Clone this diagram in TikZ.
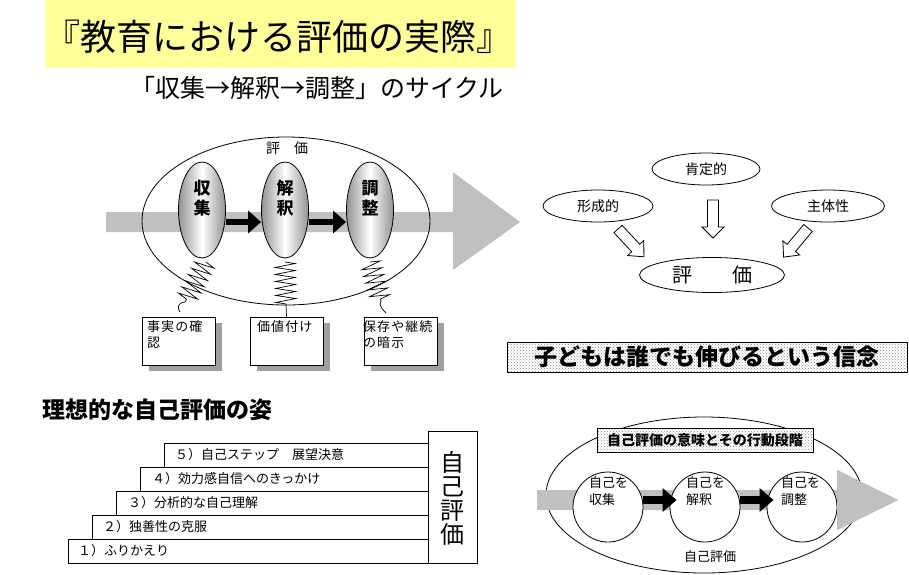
\documentclass[tikz,border=0pt]{standalone}
\usepackage{fontspec}
\newfontfamily\jp{Noto Sans CJK JP}
\usetikzlibrary{shapes.geometric,patterns,decorations.pathmorphing,arrows.meta,shadows}
\definecolor{titlebg}{RGB}{255,255,153}
\definecolor{arrowgray}{RGB}{192,192,192}
\tikzset{
  outline/.style={draw=black, line width=0.8pt},
  bigell/.style={outline, ellipse, inner sep=0pt},
  shadedell/.style={draw=black, line width=0.8pt, ellipse, inner sep=0pt, minimum width=47pt, minimum height=96pt,
     left color=gray!85, right color=gray!85, middle color=white},
  blk/.style={line width=6pt, -{Triangle[length=13pt,width=22pt]}},
  spring/.style={line width=0.7pt, decorate, decoration={zigzag, segment length=7pt, amplitude=10pt}},
  tail/.style={line width=0.7pt},
  notebox/.style={outline, fill=white, inner sep=0pt, minimum width=73pt, minimum height=48pt,
     drop shadow={shadow xshift=7pt, shadow yshift=-6pt, fill=gray!75, opacity=1}},
  smalltxt/.style={font=\jp\fontsize{13}{16}\selectfont\addfontfeature{LetterSpace=8}, inner sep=0pt, anchor=north west, align=left},
  oval/.style={outline, ellipse, inner sep=0pt, font=\jp\fontsize{14}{14}\selectfont},
  hollow/.style={draw=black, line width=0.8pt, fill=white},
  dotted banner/.style={outline, preaction={fill=white}, pattern=crosshatch dots, pattern color=gray!90, inner sep=0pt},
  stepbox/.style={outline, anchor=north west, inner sep=0pt, minimum height=24pt},
  steptxt/.style={font=\jp\fontsize{13}{13}\selectfont, anchor=west, inner sep=0pt},
  circ/.style={outline, circle, fill=white, minimum size=70pt, inner sep=0pt},
  circtxt/.style={font=\jp\fontsize{13}{17}\selectfont, inner sep=0pt, anchor=north west, align=left},
}
\begin{document}
\begin{tikzpicture}[x=1pt,y=-1pt,font=\jp]
\useasboundingbox (0,0) rectangle (909,574);

% ---- title ----
\fill[titlebg] (45,0) rectangle (515,68);
\node[font=\jp\fontsize{36}{36}\selectfont, inner sep=0pt] (title) at (278,37) {『教育における評価の実際』};
\node[font=\jp\fontsize{25}{25}\selectfont, inner sep=0pt] (subtitle) at (317,88) {「収集→解釈→調整」のサイクル};

% ---- left cycle ----
\fill[arrowgray] (106,212) -- (453,212) -- (453,172) -- (520,222) -- (453,270) -- (453,232) -- (106,232) -- cycle;
\node[bigell, minimum width=288pt, minimum height=168pt] (evalL) at (286,221) {};
\node[font=\jp\fontsize{14}{14}\selectfont, fill=white, inner sep=1pt] (evalLabel) at (287,148) {評　価};

\node[shadedell] (c1) at (202,210) {};
\node[shadedell] (c2) at (285,210) {};
\node[shadedell] (c3) at (370,210) {};
\node[font=\jp\bfseries\fontsize{17}{20}\selectfont, align=center, inner sep=0pt] (c1t) at (202,198) {収\\集};
\node[font=\jp\bfseries\fontsize{17}{20}\selectfont, align=center, inner sep=0pt] (c2t) at (285,198) {解\\釈};
\node[font=\jp\bfseries\fontsize{17}{20}\selectfont, align=center, inner sep=0pt] (c3t) at (370,198) {調\\整};
\draw[blk] ([yshift=-12pt]c1.east) -- ([yshift=-12pt]c2.west);
\draw[blk] ([yshift=-12pt]c2.east) -- ([yshift=-12pt]c3.west);

\node[notebox] (b1) at (178.5,341) {};
\node[notebox] (b2) at (286.5,341) {};
\node[notebox] (b3) at (400.5,341) {};
\node[smalltxt] (b1t) at (147,320) {事実の確\\認};
\node[smalltxt] (b2t) at (257,320) {価値付け};
\node[smalltxt] (b3t) at (363,320) {保存や継続\\の暗示};

\coordinate (s1a) at (206,262);
\coordinate (s1b) at (185,302);
\coordinate (s1c) at (180,312);
\draw[spring] (s1a) -- (s1b);
\draw[tail] (s1b) .. controls (176,303) and (178,309) .. (s1c);
\coordinate (s2a) at (285,262);
\coordinate (s2b) at (286,304);
\draw[spring] (s2a) -- (s2b);
\draw[tail] (s2b) -- (b2.north);
\coordinate (s3a) at (370,262);
\coordinate (s3b) at (381,301);
\coordinate (s3c) at (386,313);
\draw[spring] (s3a) -- (s3b);
\draw[tail] (s3b) .. controls (378,305) and (383,310) .. (s3c);

% ---- right evaluation ----
\node[oval, minimum width=108pt, minimum height=32pt] (pos) at (706,169) {肯定的};
\node[oval, minimum width=110pt, minimum height=32pt] (form) at (598,206) {形成的};
\node[oval, minimum width=113pt, minimum height=32pt] (subj) at (828,206) {主体性};
\node[oval, minimum width=145pt, minimum height=35pt, font=\jp\fontsize{20}{20}\selectfont] (evalR) at (712,275) {評　　価};
\begin{scope}[shift={(713,200)}]
  \draw[hollow] (-5.5,0) -- (5.5,0) -- (5.5,27) -- (11,27) -- (0,38) -- (-11,27) -- (-5.5,27) -- cycle;
\end{scope}
\begin{scope}[shift={(618,229)}, rotate=43]
  \draw[hollow] (-5.5,0) -- (5.5,0) -- (5.5,26) -- (11,26) -- (0,38) -- (-11,26) -- (-5.5,26) -- cycle;
\end{scope}
\begin{scope}[shift={(808,228)}, rotate=-40]
  \draw[hollow] (-5.5,0) -- (5.5,0) -- (5.5,26) -- (11,26) -- (0,38) -- (-11,26) -- (-5.5,26) -- cycle;
\end{scope}

\node[dotted banner, minimum width=400pt, minimum height=30pt, font=\jp\bfseries\fontsize{23}{23}\selectfont] (belief) at (707,357) {子どもは誰でも伸びるという信念};

% ---- bottom-left stairs ----
\node[font=\jp\bfseries\fontsize{23}{23}\selectfont, anchor=west, inner sep=0pt] (ideal) at (42,410) {理想的な自己評価の姿};
\node[stepbox, minimum width=360pt] (st1) at (68,539) {};
\node[stepbox, minimum width=336pt] (st2) at (92,515) {};
\node[stepbox, minimum width=312pt] (st3) at (116,491) {};
\node[stepbox, minimum width=288pt] (st4) at (140,467) {};
\node[stepbox, minimum width=264pt] (st5) at (164,443) {};
\node[steptxt] (st1t) at (78,551) {１）ふりかえり};
\node[steptxt] (st2t) at (103,527) {２）独善性の克服};
\node[steptxt] (st3t) at (128,503) {３）分析的な自己理解};
\node[steptxt] (st4t) at (152,479) {４）効力感自信へのきっかけ};
\node[steptxt] (st5t) at (175,455) {５）自己ステップ　展望決意};
\node[outline, minimum width=49pt, minimum height=132pt, inner sep=0pt] (selfbox) at (452.5,497) {};
\node[font=\jp\fontsize{24}{24}\selectfont, align=center, inner sep=0pt] (selfboxt) at (452.5,498) {自\\己\\評\\価};

% ---- bottom-right self evaluation ----
\node[bigell, minimum width=316pt, minimum height=156pt] (evalB) at (704,495) {};
\fill[arrowgray] (537,490) -- (837,490) -- (837,470) -- (898,500) -- (837,530) -- (837,510) -- (537,510) -- cycle;
\node[circ] (q1) at (608,507) {};
\node[circ] (q2) at (705,507) {};
\node[circ] (q3) at (802,507) {};
\fill[arrowgray] (837,490) -- (837,470) -- (898,500) -- (837,530) -- (837,510) -- cycle;
\node[circtxt] (q1t) at (589,476) {自己を\\収集};
\node[circtxt] (q2t) at (686,476) {自己を\\解釈};
\node[circtxt] (q3t) at (781,476) {自己を\\調整};
\draw[line width=8pt, -{Triangle[length=14pt,width=23pt]}] ([yshift=7pt]q1.east) -- ([yshift=7pt,xshift=7pt]q2.west);
\draw[line width=8pt, -{Triangle[length=14pt,width=23pt]}] ([yshift=7pt]q2.east) -- ([yshift=7pt,xshift=7pt]q3.west);
\node[dotted banner, minimum width=216pt, minimum height=24pt, font=\jp\bfseries\fontsize{14}{14}\selectfont] (meaning) at (705,440) {自己評価の意味とその行動段階};
\node[font=\jp\fontsize{13}{13}\selectfont, inner sep=0pt] (evalBt) at (710,557) {自己評価};
\end{tikzpicture}
\end{document}
